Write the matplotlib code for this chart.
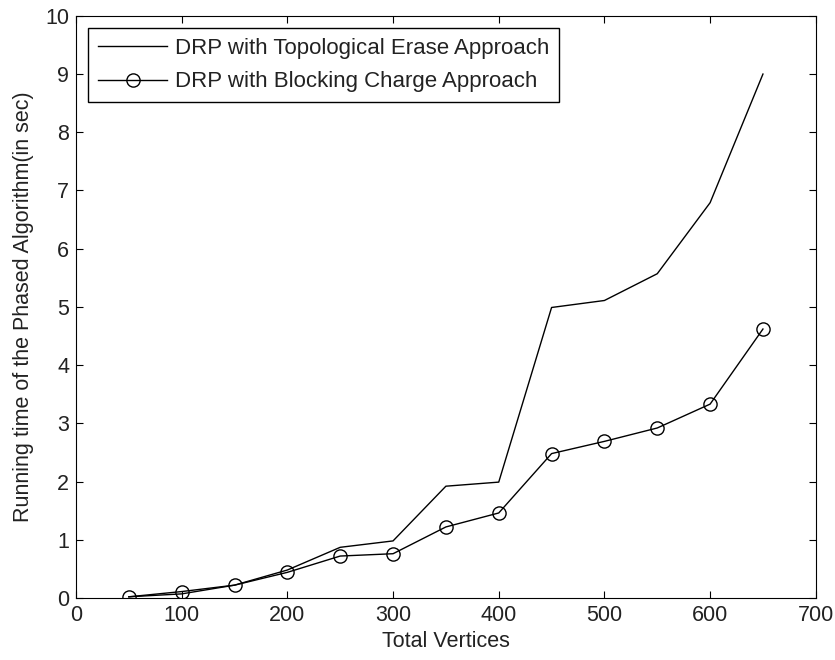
import numpy as np
import matplotlib.pyplot as plt

plt.rcParams['font.family'] = ['Liberation Sans', 'DejaVu Sans']

# data
vertices = [50, 100, 150, 200, 250, 300, 350, 400, 450, 500, 550, 600, 650]
topological = [0.02, 0.07, 0.22, 0.48, 0.87, 0.98, 1.92, 1.99, 4.99, 5.11, 5.57, 6.79, 9.0]
blocking = [0.02, 0.11, 0.22, 0.44, 0.72, 0.76, 1.22, 1.46, 2.48, 2.69, 2.92, 3.33, 4.62]

fig = plt.figure(figsize=(8.35, 6.6), dpi=100)
ax = fig.add_axes([0.091, 0.094, 0.886, 0.882])

ax.plot(vertices, topological, color='black', linewidth=1,
        label='DRP with Topological Erase Approach')
ax.plot(vertices, blocking, color='black', linewidth=1, marker='o',
        markersize=9.5, markerfacecolor='none', markeredgewidth=1,
        label='DRP with Blocking Charge Approach')

ax.set_xlim(0, 700)
ax.set_ylim(0, 10)
ax.set_xticks(np.arange(0, 701, 100))
ax.set_yticks(np.arange(0, 11, 1))
ax.tick_params(direction='in', top=True, right=True, labelsize=15.5, length=5, pad=5,
               labelcolor='#222222')
ax.set_xlabel('Total Vertices', fontsize=15.5, labelpad=4, color='#222222')
ax.set_ylabel('Running time of the Phased Algorithm(in sec)', fontsize=15.5,
              labelpad=8, color='#222222')

leg = ax.legend(loc='upper left', fontsize=16, frameon=True, fancybox=False,
                edgecolor='black', framealpha=1, borderaxespad=0.55,
                borderpad=0.45, labelspacing=0.55, handlelength=3.1,
                handletextpad=0.35)
leg.get_frame().set_linewidth(1)
for t in leg.get_texts():
    t.set_color('#222222')

fig.savefig('out.png', dpi=100)
